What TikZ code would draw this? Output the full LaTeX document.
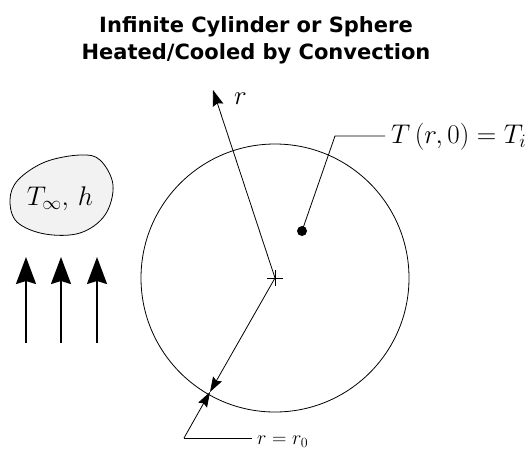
\RequirePackage{fix-cm}
\documentclass[tikz,border=0pt]{standalone}
\usepackage{fontspec}
\newfontfamily\titlefont{DejaVu Sans}
\usetikzlibrary{arrows.meta}
\begin{document}
\begin{tikzpicture}[x=1pt,y=-1pt,
  titletext/.style={font=\titlefont\bfseries\fontsize{21}{27}\selectfont, align=center},
  mathlbl/.style={font=\fontsize{27}{31}\selectfont, inner sep=0pt},
  flow/.style={line width=2pt, -{Stealth[length=27pt,width=20pt,inset=3pt]}},
  thin/.style={line width=0.8pt},
  bigtip/.style={-{Stealth[length=16pt,width=11pt,inset=2pt]}},
  smalltip/.style={-{Stealth[length=15pt,width=10pt,inset=2pt]}}]
\useasboundingbox (0,0) rectangle (529,453);
% title
\node[titletext] (title) at (256,40) {Infinite Cylinder or Sphere\\Heated/Cooled by Convection};
% circle
\coordinate (c) at (275,278);
\node[draw, thin, circle, minimum size=268pt, inner sep=0pt] (circ) at (c) {};
% cross
\coordinate (cl) at (267,278); \coordinate (cr) at (283,278);
\coordinate (ct) at (275,270); \coordinate (cb) at (275,286);
\draw[thin] (cl) -- (cr); \draw[thin] (ct) -- (cb);
% r axis
\coordinate (rtip) at (213,90);
\draw[thin, bigtip] (c) -- (rtip);
\node[mathlbl, anchor=west] (rlbl) at (234,99) {$r$};
% r0 arrows
\coordinate (edge) at (210,392);
\coordinate (corner) at (184,438);
\coordinate (hend) at (252,438);
\draw[thin, smalltip] (c) -- (edge);
\draw[thin, smalltip] (corner) -- (edge);
\draw[thin] (corner) -- (hend);
\node[mathlbl, anchor=west, font=\fontsize{20}{24}\selectfont] (r0lbl) at (257,442) {$r = r_0$};
% T label
\node[circle, fill=black, minimum size=10pt, inner sep=0pt] (dot) at (302,231) {};
\coordinate (knee) at (335,136);
\coordinate (lend) at (385,136);
\draw[thin] (dot.center) -- (knee) -- (lend);
\node[mathlbl, anchor=west] (tlbl) at (391,137) {$T\left(r,0\right) = T_i$};
% blob
\draw[thin, fill=black!5] plot[smooth cycle, tension=0.6] coordinates {(10,200) (17,222) (45,234) (80,233) (105,215) (113,185) (100,160) (80,155) (45,162) (18,180)} ;
\node[mathlbl] (blob) at (60,199) {$T_\infty,\, h$};
% flow arrows
\coordinate (a1s) at (26,343); \coordinate (a1e) at (26,257);
\coordinate (a2s) at (61,343); \coordinate (a2e) at (61,257);
\coordinate (a3s) at (97,343); \coordinate (a3e) at (97,257);
\draw[flow] (a1s) -- (a1e);
\draw[flow] (a2s) -- (a2e);
\draw[flow] (a3s) -- (a3e);
\end{tikzpicture}
\end{document}
